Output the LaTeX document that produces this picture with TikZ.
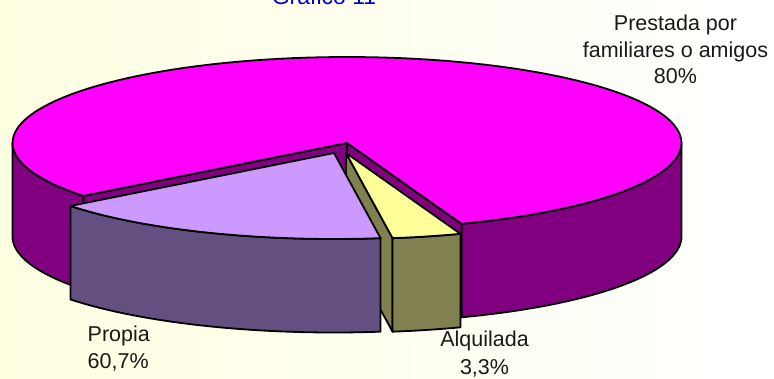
\documentclass[tikz,border=0pt]{standalone}
\usepackage{fontspec}
\setmainfont{Liberation Sans}
\definecolor{bgyel}{RGB}{255,255,226}
\definecolor{magtop}{RGB}{255,0,255}
\definecolor{magside}{RGB}{128,0,128}
\definecolor{lavtop}{RGB}{204,153,255}
\definecolor{lavside}{RGB}{99,79,128}
\definecolor{yeltop}{RGB}{255,255,153}
\definecolor{olive2}{RGB}{128,128,80}
\definecolor{titleblue}{RGB}{0,0,204}
\def\cx{347}
\def\cy{143}
\def\ra{334.5}
\def\rb{86}
\def\hh{93.5}
% top face of a slice: start, end, dx, dy, style
\newcommand{\pietop}[5]{%
  \filldraw[#5] ({\cx+#3},{\cy+#4}) -- plot[domain=#1:#2,samples=120] ({\cx+#3+\ra*cos(\x)},{\cy+#4+\rb*sin(\x)}) -- cycle;}
% outer side face: start, end, dx, dy, style
\newcommand{\pieside}[5]{%
  \filldraw[#5] plot[domain=#1:#2,samples=60] ({\cx+#3+\ra*cos(\x)},{\cy+#4+\rb*sin(\x)})
    -- plot[domain=#2:#1,samples=60] ({\cx+#3+\ra*cos(\x)},{\cy+#4+\hh+\rb*sin(\x)}) -- cycle;}
% radial cut face: angle, dx, dy, style
\newcommand{\piecut}[4]{%
  \filldraw[#4] ({\cx+#2},{\cy+#3}) -- ({\cx+#2+\ra*cos(#1)},{\cy+#3+\rb*sin(#1)})
    -- ({\cx+#2+\ra*cos(#1)},{\cy+#3+\hh+\rb*sin(#1)}) -- ({\cx+#2},{\cy+#3+\hh}) -- cycle;}
\begin{document}
\begin{tikzpicture}[x=1pt,y=-1pt,
  edge/.style={draw=black,line width=1.8pt,line join=round},
  lbl/.style={font=\fontsize{21.5}{26}\selectfont,text=black!90,inner sep=0pt,anchor=base},
  ttl/.style={font=\fontsize{23}{27}\selectfont,text=titleblue,inner sep=0pt,anchor=base}]
\useasboundingbox (0,0) rectangle (774,378);
\shade[left color=bgyel,middle color=bgyel,right color=white] (0,0) rectangle (774,378);
% magenta slice (80%)
\pieside{0}{70}{0}{0}{edge,fill=magside}
\pieside{142}{180}{0}{0}{edge,fill=magside}
\piecut{142}{0}{0}{edge,fill=magside}
\piecut{70}{0}{0}{edge,fill=magside}
\pietop{142}{430}{0}{0}{edge,fill=magtop}
% yellow slice (Alquilada)
\piecut{82}{-1}{10}{edge,fill=olive2}
\pieside{70}{82}{-1}{10}{edge,fill=olive2}
\pietop{70}{82}{-1}{10}{edge,fill=yeltop}
% lavender slice (Propia)
\pieside{82}{142}{-13}{10}{edge,fill=lavside}
\pietop{82}{142}{-13}{10}{edge,fill=lavtop}
% texts
\node[ttl] (title) at (324,4) {Gráfico 11};
\node[lbl] (prestA) at (675.5,30.7) {Prestada por};
\node[lbl] (prestB) at (675.5,57.3) {familiares o amigos};
\node[lbl] (prestC) at (675.5,83.5) {80\%};
\node[lbl,anchor=base west] (propA) at (87.5,341) {Propia};
\node[lbl,anchor=base west] (propB) at (87.5,368.3) {60,7\%};
\node[lbl] (alqA) at (484.5,346.7) {Alquilada};
\node[lbl] (alqB) at (484.5,374.5) {3,3\%};
\end{tikzpicture}
\end{document}
